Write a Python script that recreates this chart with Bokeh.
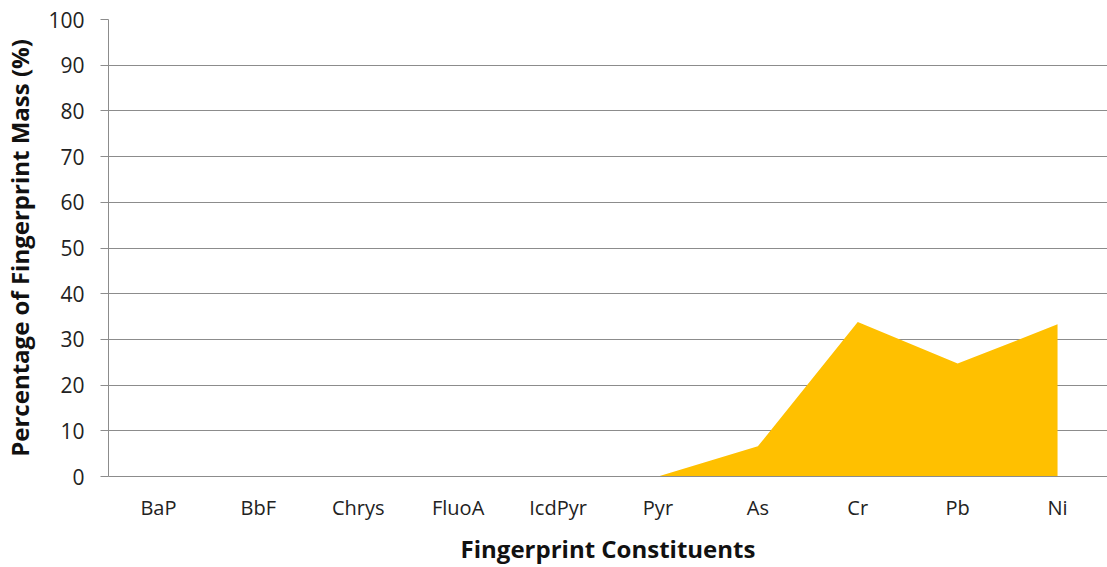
from bokeh.plotting import figure
from bokeh.models import FactorRange, SingleIntervalTicker
from bokeh.embed import file_html
from bokeh.resources import INLINE

categories = ["BaP", "BbF", "Chrys", "FluoA", "IcdPyr", "Pyr", "As", "Cr", "Pb", "Ni"]
values = [0, 0, 0, 0, 0, 0, 6.6, 33.8, 24.7, 33.3]

FONT = "Open Sans"
GRID = "#8c8c8c"

p = figure(width=1107, height=567, x_range=FactorRange(*categories, range_padding=0),
           y_range=(0, 100), output_backend="svg", toolbar_location=None,
           min_border_left=107, min_border_right=0, min_border_top=19, min_border_bottom=91)
p.outline_line_color = None
p.background_fill_color = "white"

p.varea(x=categories, y1=[0] * len(categories), y2=values, fill_color="#FFC000")

p.yaxis.ticker = SingleIntervalTicker(interval=10)
p.ygrid.grid_line_color = GRID
p.ygrid.grid_line_width = 1
p.xgrid.grid_line_color = None

p.yaxis.axis_line_color = GRID
p.yaxis.major_tick_line_color = GRID
p.yaxis.major_tick_out = 8
p.yaxis.major_tick_in = 0
p.yaxis.minor_tick_line_color = None
p.yaxis.major_label_text_font = FONT
p.yaxis.major_label_text_font_size = "21px"
p.yaxis.major_label_text_color = "#222222"
p.yaxis.major_label_standoff = 16
p.yaxis.axis_label = "Percentage of Fingerprint Mass (%)"
p.yaxis.axis_label_text_font = FONT
p.yaxis.axis_label_text_font_size = "24px"
p.yaxis.axis_label_text_font_style = "bold"
p.yaxis.axis_label_text_color = "#111111"
p.yaxis.axis_label_standoff = 9

p.xaxis.axis_line_color = GRID
p.xaxis.major_tick_line_color = None
p.xaxis.minor_tick_line_color = None
p.xaxis.major_label_text_font = FONT
p.xaxis.major_label_text_font_size = "20px"
p.xaxis.major_label_text_color = "#222222"
p.xaxis.major_label_standoff = 11
p.xaxis.axis_label = "Fingerprint Constituents"
p.xaxis.axis_label_text_font = FONT
p.xaxis.axis_label_text_font_size = "24px"
p.xaxis.axis_label_text_font_style = "bold"
p.xaxis.axis_label_text_color = "#111111"
p.xaxis.axis_label_standoff = 8

open("out.html", "w").write(file_html(p, INLINE))
